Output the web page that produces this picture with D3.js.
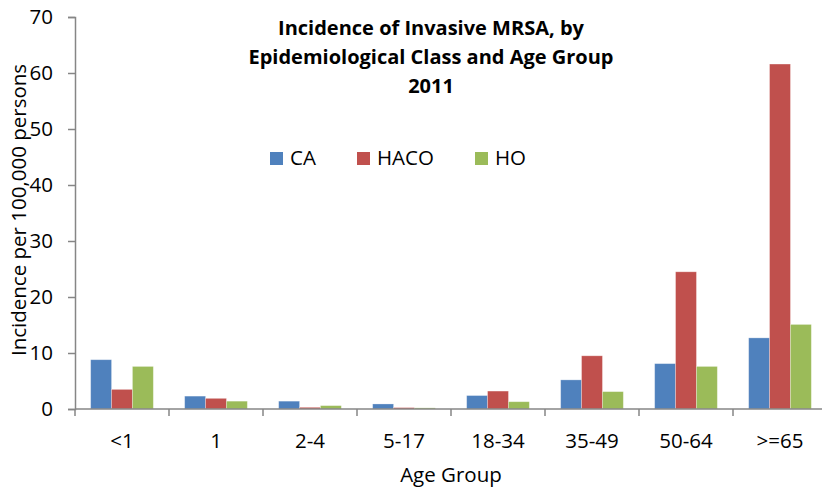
<!DOCTYPE html>
<html>
<head>
<meta charset="utf-8">
<script src="https://cdn.jsdelivr.net/npm/d3@7"></script>
<style>
  body { margin: 0; background: #fff; }
  text { font-family: "Open Sans", sans-serif; fill: #000; }
</style>
</head>
<body>
<script>
// age groups along the x axis
var ageGroups = ["<1", "1", "2-4", "5-17", "18-34", "35-49", "50-64", ">=65"];
var seriesNames = ["CA", "HACO", "HO"];
var seriesColors = ["#4F81BD", "#C0504D", "#9BBB59"];
// incidence per 100,000
var caValues   = [8.8, 2.3, 1.4, 0.9, 2.4, 5.2, 8.1, 12.7];
var hacoValues = [3.5, 1.9, 0.3, 0.25, 3.2, 9.5, 24.5, 61.6];
var hoValues   = [7.6, 1.4, 0.6, 0.2, 1.3, 3.1, 7.6, 15.1];
var yTicks = [0, 10, 20, 30, 40, 50, 60, 70];
var titleLines = ["Incidence of Invasive MRSA, by", "Epidemiological Class and Age Group", "2011"];

var width = 822, height = 487;
var plotLeft = 75, plotTop = 17, plotRight = 827, plotBottom = 409;
var fs = 20.5;

var svg = d3.select("body").append("svg")
	.attr("width", width)
	.attr("height", height);

var x = d3.scaleBand().domain(ageGroups).range([plotLeft, plotRight]);
var inner = d3.scaleBand().domain(seriesNames)
	.range([0, x.bandwidth()])
	.paddingInner(0).paddingOuter(0.75);
var y = d3.scaleLinear().domain([0, 70]).range([plotBottom, plotTop]);

var rows = ageGroups.map(function(g, i) {
	return { group: g, values: [caValues[i], hacoValues[i], hoValues[i]] };
});

// bars
var groups = svg.selectAll("g.grp")
	.data(rows)
	.enter().append("g")
	.attr("class", "grp")
	.attr("transform", function(d){ return "translate(" + x(d.group) + ",0)"; });

groups.selectAll("rect")
	.data(function(d){ return d.values.map(function(v, k){ return { s: seriesNames[k], v: v, c: seriesColors[k] }; }); })
	.enter().append("rect")
	.attr("x", function(d){ return inner(d.s); })
	.attr("width", inner.bandwidth())
	.attr("y", function(d){ return y(d.v); })
	.attr("height", function(d){ return plotBottom - y(d.v); })
	.attr("fill", function(d){ return d.c; })
	.attr("stroke", "rgba(255,255,255,0.35)")
	.attr("stroke-width", 0.8);

// y axis
var yAxis = svg.append("g")
	.attr("transform", "translate(" + plotLeft + ",0)")
	.call(d3.axisLeft(y).tickValues(yTicks).tickSize(7).tickPadding(15));
yAxis.select(".domain").attr("stroke", "#868686").attr("stroke-width", 1.5);
yAxis.selectAll(".tick line").attr("stroke", "#868686").attr("stroke-width", 1.5);
yAxis.selectAll(".tick text")
	.attr("font-size", fs)
	.attr("fill", "#000")
	.attr("font-family", "Open Sans, sans-serif");

// x axis: ticks sit between categories
var xAxis = svg.append("g")
	.attr("transform", "translate(0," + plotBottom + ")");
xAxis.append("line")
	.attr("x1", plotLeft).attr("x2", plotRight)
	.attr("stroke", "#868686").attr("stroke-width", 1.5);
xAxis.selectAll("line.tk")
	.data(ageGroups)
	.enter().append("line")
	.attr("class", "tk")
	.attr("x1", function(d){ return x(d); })
	.attr("x2", function(d){ return x(d); })
	.attr("y1", 0).attr("y2", 7)
	.attr("stroke", "#868686").attr("stroke-width", 1.5);
xAxis.selectAll("text")
	.data(ageGroups)
	.enter().append("text")
	.attr("x", function(d){ return x(d) + x.bandwidth() / 2; })
	.attr("y", 39)
	.attr("text-anchor", "middle")
	.attr("font-size", fs)
	.text(function(d){ return d; });

// axis titles
svg.append("text")
	.attr("x", 451).attr("y", 482)
	.attr("text-anchor", "middle")
	.attr("font-size", fs)
	.text("Age Group");
svg.append("text")
	.attr("transform", "translate(26,210) rotate(-90)")
	.attr("text-anchor", "middle")
	.attr("font-size", fs)
	.text("Incidence per 100,000 persons");

// title
svg.selectAll("text.title")
	.data(titleLines)
	.enter().append("text")
	.attr("class", "title")
	.attr("x", 431)
	.attr("y", function(d, i){ return 35 + i * 29; })
	.attr("text-anchor", "middle")
	.attr("font-size", 20)
	.attr("font-weight", "bold")
	.text(function(d){ return d; });

// legend
var legendX = [270, 357, 475];
var legend = svg.selectAll("g.leg")
	.data(seriesNames)
	.enter().append("g")
	.attr("class", "leg")
	.attr("transform", function(d, i){ return "translate(" + legendX[i] + ",152)"; });
legend.append("rect")
	.attr("width", 13).attr("height", 13)
	.attr("fill", function(d, i){ return seriesColors[i]; });
legend.append("text")
	.attr("x", 20).attr("y", 13)
	.attr("font-size", fs)
	.text(function(d){ return d; });
</script>
</body>
</html>
